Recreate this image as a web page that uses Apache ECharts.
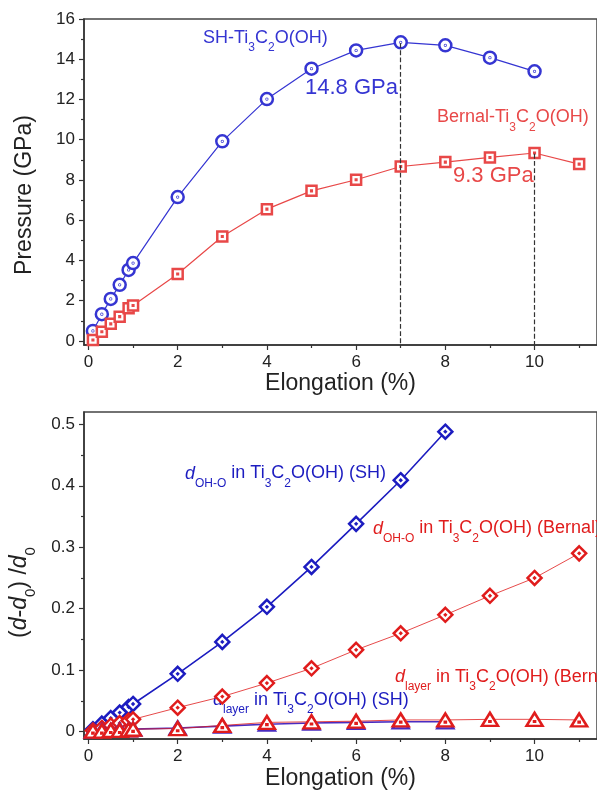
<!DOCTYPE html>
<html>
<head>
<meta charset="utf-8">
<script src="https://cdn.jsdelivr.net/npm/echarts@6/dist/echarts.min.js"></script>
<style>
  html, body { margin: 0; padding: 0; background: #fff; }
  #main { width: 597px; height: 796px; }
</style>
</head>
<body>
<div id="main"></div>
<script>
// elongation (%) shared by both panels
const elongation = [0.1, 0.3, 0.5, 0.7, 0.9, 1, 2, 3, 4, 5, 6, 7, 8, 9, 10, 11];

// top panel: pressure (GPa)
const shPressure = [0.5, 1.33, 2.09, 2.79, 3.53, 3.87, 7.15, 9.92, 12.02, 13.53, 14.44, 14.84, 14.69, 14.08, 13.4];
const bernalPressure = [0.05, 0.46, 0.85, 1.21, 1.63, 1.76, 3.33, 5.19, 6.55, 7.46, 8.01, 8.67, 8.89, 9.12, 9.34, 8.79];
const peakElong = [7, 10];
const peakPressure = [14.8, 9.3];
const peakLabels = ['14.8 GPa', '9.3 GPa'];

// bottom panel: (d-d0)/d0
const shOHO = [0.004, 0.013, 0.022, 0.031, 0.040, 0.045, 0.094, 0.146, 0.203, 0.268, 0.338, 0.409, 0.488];
const bernalOHO = [0.002, 0.006, 0.010, 0.014, 0.018, 0.020, 0.039, 0.057, 0.079, 0.103, 0.133, 0.160, 0.190, 0.221, 0.250, 0.290];
const shLayer = [0.001, 0.002, 0.002, 0.003, 0.003, 0.004, 0.006, 0.009, 0.012, 0.014, 0.015, 0.016, 0.016];
const bernalLayer = [0.001, 0.001, 0.002, 0.002, 0.003, 0.004, 0.005, 0.010, 0.015, 0.016, 0.017, 0.019, 0.019, 0.020, 0.020, 0.019];

// ticks
const xTicks = [0, 2, 4, 6, 8, 10];
const xMinor = [1, 3, 5, 7, 9, 11];
const pressureTicks = [0, 2, 4, 6, 8, 10, 12, 14, 16];
const pressureMinor = [1, 3, 5, 7, 9, 11, 13, 15];
const strainTicks = [0, 0.1, 0.2, 0.3, 0.4, 0.5];
const strainMinor = [0.05, 0.15, 0.25, 0.35, 0.45];

const FONT = '"Liberation Sans", Arial, sans-serif';
const BLUE_T = '#3535d2', RED_T = '#e84848';
const BLUE_B = '#1c1cc0', RED_B = '#e01c1c';

// open markers with a dot in the middle
const CIRCLE = 'path://M0,-10A10,10,0,1,1,0,10A10,10,0,1,1,0,-10ZM0,-0.6A0.6,0.6,0,1,1,0,0.6A0.6,0.6,0,1,1,0,-0.6Z';
const SQUARE = 'path://M-10,-10L10,-10L10,10L-10,10ZM-0.6,-0.6L0.6,-0.6L0.6,0.6L-0.6,0.6Z';
const DIAMOND = 'path://M0,-10L10,0L0,10L-10,0ZM-0.6,0L0,-0.6L0.6,0L0,0.6Z';
const TRIANGLE = 'path://M0,-10L11,8L-11,8ZM-0.6,1.4L0.6,1.4L0.6,2.6L-0.6,2.6Z';

function pairs(xs, ys) {
  return ys.map((y, i) => [xs[i], y]);
}

function axis(grid, min, max, ticks, len, main, extra) {
  return Object.assign({
    type: 'value', gridIndex: grid, min: min, max: max,
    axisLine: { show: main, onZero: false, lineStyle: { color: '#333', width: 1.5 } },
    axisTick: { show: true, inside: false, length: len, customValues: ticks, lineStyle: { color: '#333', width: 1.2 } },
    axisLabel: { show: main, customValues: ticks, margin: 9, fontSize: 17, color: '#222', fontFamily: FONT },
    splitLine: { show: false }
  }, extra || {});
}

function lineSeries(xi, yi, ys, symbol, size, color, lw, bw) {
  return {
    type: 'line', xAxisIndex: xi, yAxisIndex: yi,
    data: pairs(elongation, ys),
    symbol: symbol, symbolSize: size, showAllSymbol: true,
    lineStyle: { color: color, width: lw },
    itemStyle: { color: '#fff', borderColor: color, borderWidth: bw },
    emphasis: { disabled: true }
  };
}

// subscripts: normal runs pinned to the top, small runs pushed down with padding
function richStyles(color, size, subSize, lh, drop) {
  return {
    t: { fontSize: size, lineHeight: lh, color: color, fontFamily: FONT, verticalAlign: 'top' },
    i: { fontSize: size, lineHeight: lh, color: color, fontFamily: FONT, fontStyle: 'italic', verticalAlign: 'top' },
    s: { fontSize: subSize, color: color, fontFamily: FONT, verticalAlign: 'top', padding: [drop, 0, 0, 0] }
  };
}

function note(text, left, top, color) {
  return { type: 'text', left: left, top: top, silent: true,
    style: { text: text, rich: richStyles(color, 18, 12, 22, 13), fill: color, font: '18px ' + FONT } };
}

const chart = echarts.init(document.getElementById('main'));
chart.setOption({
  animation: false,
  textStyle: { fontFamily: FONT },
  grid: [
    { left: 84, top: 19, width: 517.5, height: 326, show: true, borderColor: '#444', borderWidth: 1.5 },
    { left: 84, top: 412, width: 517.5, height: 327, show: true, borderColor: '#444', borderWidth: 1.5 }
  ],
  xAxis: [
    axis(0, -0.1, 11.4, xTicks, 5, true, {
      name: 'Elongation (%)', nameLocation: 'middle', nameGap: 21,
      nameTextStyle: { fontSize: 23, color: '#222', fontFamily: FONT }
    }),
    axis(0, -0.1, 11.4, xMinor, 3, false, { position: 'bottom' }),
    axis(1, -0.1, 11.4, xTicks, 5, true, {
      name: 'Elongation (%)', nameLocation: 'middle', nameGap: 28,
      nameTextStyle: { fontSize: 23, color: '#222', fontFamily: FONT }
    }),
    axis(1, -0.1, 11.4, xMinor, 3, false, { position: 'bottom' })
  ],
  yAxis: [
    axis(0, -0.2, 16, pressureTicks, 5, true, {
      name: 'Pressure (GPa)', nameLocation: 'middle', nameGap: 48,
      nameTextStyle: { fontSize: 23, color: '#222', fontFamily: FONT, padding: [0, 26, 0, 0] }
    }),
    axis(0, -0.2, 16, pressureMinor, 3, false, { position: 'left' }),
    axis(1, -0.012, 0.52, strainTicks, 5, true, {
      name: '{t|(}{i|d}{t|-}{i|d}{s|0}{t|) /}{i|d}{s|0}', nameLocation: 'middle', nameGap: 46,
      nameTextStyle: {
        fontSize: 23, color: '#222', fontFamily: FONT, padding: [0, 34, 0, 0],
        rich: richStyles('#222', 23, 15, 28, 15)
      }
    }),
    axis(1, -0.012, 0.52, strainMinor, 3, false, { position: 'left' })
  ],
  series: [
    lineSeries(0, 0, shPressure, CIRCLE, 12, BLUE_T, 1.2, 2.5),
    Object.assign(lineSeries(0, 0, bernalPressure, SQUARE, 10, RED_T, 1.2, 2.5), {
      markLine: {
        silent: true, symbol: ['none', 'none'], label: { show: false },
        lineStyle: { color: '#333', type: 'dashed', width: 1.2 },
        data: peakElong.map((x, i) => [{ coord: [x, peakPressure[i]] }, { coord: [x, -0.2] }])
      }
    }),
    lineSeries(2, 2, shOHO, DIAMOND, 14, BLUE_B, 1.6, 2.5),
    lineSeries(2, 2, bernalOHO, DIAMOND, 14, RED_B, 0.8, 2.5),
    lineSeries(2, 2, shLayer, TRIANGLE, [16, 13], '#4a2bc0', 1.6, 2.5),
    lineSeries(2, 2, bernalLayer, TRIANGLE, [16, 13], RED_B, 0.8, 2.5)
  ],
  graphic: [
    note('{t|SH-Ti}{s|3}{t|C}{s|2}{t|O(OH)}', 203, 29, BLUE_T),
    note('{t|Bernal-Ti}{s|3}{t|C}{s|2}{t|O(OH)}', 437, 108.5, RED_T),
    { type: 'text', left: 305, top: 75.4, silent: true,
      style: { text: peakLabels[0], fill: BLUE_T, fontSize: 22, lineHeight: 26, fontFamily: FONT } },
    { type: 'text', left: 453, top: 162.7, silent: true,
      style: { text: peakLabels[1], fill: RED_T, fontSize: 22, lineHeight: 26, fontFamily: FONT } },
    note('{i|d}{s|OH-O}{t| in Ti}{s|3}{t|C}{s|2}{t|O(OH) (SH)}', 185, 464.5, BLUE_B),
    note('{i|d}{s|OH-O}{t| in Ti}{s|3}{t|C}{s|2}{t|O(OH) (Bernal)}', 373, 519.5, RED_B),
    note('{i|d}{s|layer}{t| in Ti}{s|3}{t|C}{s|2}{t|O(OH) (Bernal)}', 395, 667.8, RED_B),
    note('{i|d}{s|layer}{t| in Ti}{s|3}{t|C}{s|2}{t|O(OH) (SH)}', 213, 690.8, BLUE_B)
  ]
});
</script>
</body>
</html>
